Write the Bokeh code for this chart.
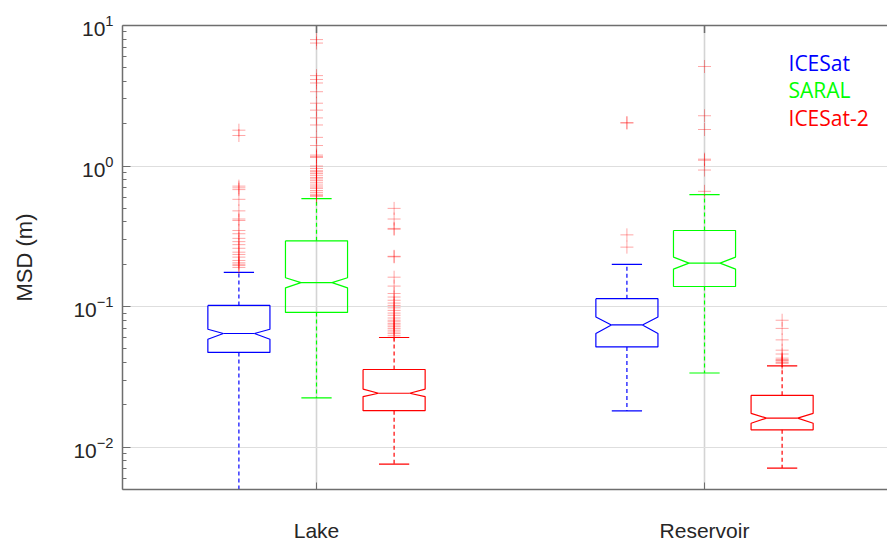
import math
from bokeh.plotting import figure
from bokeh.models import Range1d, FixedTicker, LogTickFormatter, LinearAxis, ColumnDataSource
from bokeh.core.properties import value
from bokeh.embed import file_html
from bokeh.resources import INLINE

# ---------------- data ----------------
groups = ["Lake", "Reservoir"]
series = ["ICESat", "SARAL", "ICESat-2"]
colors = ["#0000ff", "#00ff00", "#ff0000"]

# [group][series]
lower_whisker = [[0.005, 0.0224, 0.00757], [0.0181, 0.0337, 0.0071]]
q1 = [[0.0472, 0.091, 0.0182], [0.0517, 0.139, 0.0133]]
median = [[0.0644, 0.148, 0.0242], [0.0741, 0.204, 0.0161]]
q3 = [[0.102, 0.294, 0.0357], [0.114, 0.348, 0.0234]]
upper_whisker = [[0.175, 0.586, 0.0603], [0.1995, 0.626, 0.0379]]
notch_lo = [[0.0586, 0.136, 0.0229], [0.0644, 0.185, 0.0148]]
notch_hi = [[0.069, 0.1606, 0.0259], [0.0844, 0.225, 0.0174]]

outliers_lake_icesat = [0.19, 0.196, 0.2, 0.205, 0.213, 0.225, 0.235, 0.244, 0.26, 0.276,
                        0.29, 0.306, 0.33, 0.348, 0.41, 0.42, 0.48, 0.58, 0.68, 0.70, 0.72,
                        1.65, 1.8]
outliers_lake_saral = [0.61, 0.616, 0.63, 0.65, 0.67, 0.694, 0.71, 0.733, 0.76, 0.787, 0.81,
                       0.83, 0.86, 0.886, 0.91, 0.926, 0.962, 1.0, 1.15, 1.17, 1.197, 1.4,
                       1.6, 1.96, 2.2, 2.5, 2.8, 3.38, 3.9, 4.13, 4.4, 7.5, 7.94]
outliers_lake_icesat2 = [0.062, 0.0643, 0.066, 0.068, 0.07, 0.072, 0.074, 0.0757, 0.078, 0.08,
                         0.083, 0.0868, 0.09, 0.094, 0.098, 0.102, 0.106, 0.111, 0.117, 0.124,
                         0.14, 0.162, 0.226, 0.228, 0.355, 0.36, 0.42, 0.5]
outliers_res_icesat = [0.265, 0.324, 2.03, 2.03]
outliers_res_saral = [0.661, 0.937, 1.10, 1.12, 1.82, 2.28, 5.11]
outliers_res_icesat2 = [0.0395, 0.040, 0.041, 0.0415, 0.042, 0.043, 0.046, 0.049, 0.058,
                        0.07, 0.08]
outliers = [[outliers_lake_icesat, outliers_lake_saral, outliers_lake_icesat2],
            [outliers_res_icesat, outliers_res_saral, outliers_res_icesat2]]

y_major_ticks = [0.01, 0.1, 1, 10]

# ---------------- layout / style ----------------
offsets = [-0.2, 0.0, 0.2]
half_w = 0.08
notch_w = 0.04
cap_w = 0.039

p = figure(width=887, height=545, x_range=Range1d(0.5, 2.4716), y_range=Range1d(0.005, 10),
           y_axis_type="log", output_backend="svg", toolbar_location=None,
           min_border_left=122, min_border_top=25, min_border_bottom=56, min_border_right=0)
p.outline_line_color = None
p.background_fill_color = "white"

axis_col = "#6e6e6e"
label_col = "#262626"

# y axis
p.yaxis.ticker = FixedTicker(ticks=y_major_ticks,
                             minor_ticks=[m * 10.0 ** e for e in range(-3, 1) for m in range(2, 10)])
p.yaxis.formatter = LogTickFormatter()
p.yaxis.major_tick_in = 8
p.yaxis.major_tick_out = 0
p.yaxis.minor_tick_in = 4
p.yaxis.minor_tick_out = 0
p.yaxis.axis_line_color = axis_col
p.yaxis.axis_line_width = 1.5
p.yaxis.major_tick_line_color = axis_col
p.yaxis.minor_tick_line_color = axis_col
p.yaxis.major_label_text_font = "Liberation Sans"
p.yaxis.major_label_text_font_size = "21px"
p.yaxis.major_label_text_color = label_col
p.yaxis.major_label_standoff = 9
p.yaxis.axis_label = "MSD (m)"
p.yaxis.axis_label_text_font = "Liberation Sans"
p.yaxis.axis_label_text_font_size = "22px"
p.yaxis.axis_label_text_font_style = "normal"
p.yaxis.axis_label_text_color = label_col
p.yaxis.axis_label_standoff = 33

# x axis
xt = [i + 1 for i in range(len(groups))]
p.xaxis.ticker = FixedTicker(ticks=xt)
p.xaxis.major_label_overrides = {i + 1: g for i, g in enumerate(groups)}
p.xaxis.major_tick_in = 7
p.xaxis.major_tick_out = 0
p.xaxis.minor_tick_line_color = None
p.xaxis.axis_line_color = axis_col
p.xaxis.axis_line_width = 1.5
p.xaxis.major_tick_line_color = axis_col
p.xaxis.major_label_text_font = "Liberation Sans"
p.xaxis.major_label_text_font_size = "21px"
p.xaxis.major_label_text_color = label_col
p.xaxis.major_label_standoff = 29

# top border line (no labels)
top = LinearAxis(ticker=FixedTicker(ticks=[]), minor_tick_line_color=None,
                 major_tick_line_color=None, axis_line_color=axis_col, axis_line_width=1.5)
p.add_layout(top, "above")

# grids
p.xgrid.ticker = FixedTicker(ticks=xt)
p.xgrid.grid_line_color = "#d4d4d4"
p.xgrid.grid_line_width = 1.6
p.ygrid.ticker = FixedTicker(ticks=y_major_ticks)
p.ygrid.grid_line_color = "#dedede"
p.ygrid.grid_line_width = 1

# inward tick marks on the top border
p.scatter(xt, [y_major_ticks[-1]] * len(xt), marker="dash", angle=math.pi / 2, size=15,
          line_color=axis_col, line_width=1.5)

# ---------------- boxes ----------------
for gi in range(len(groups)):
    for si in range(len(series)):
        c = colors[si]
        x = gi + 1 + offsets[si]
        xs = [x - half_w, x + half_w, x + half_w, x + notch_w, x + half_w, x + half_w,
              x - half_w, x - half_w, x - notch_w, x - half_w, x - half_w]
        ys = [q3[gi][si], q3[gi][si], notch_hi[gi][si], median[gi][si], notch_lo[gi][si],
              q1[gi][si], q1[gi][si], notch_lo[gi][si], median[gi][si], notch_hi[gi][si],
              q3[gi][si]]
        p.line(xs, ys, line_color=c, line_width=1.2)
        # median
        p.line([x - notch_w, x + notch_w], [median[gi][si]] * 2, line_color=c, line_width=1.2)
        # whiskers
        p.line([x, x], [q3[gi][si], upper_whisker[gi][si]], line_color=c, line_width=1.2,
               line_dash="4 3")
        p.line([x, x], [q1[gi][si], lower_whisker[gi][si]], line_color=c, line_width=1.2,
               line_dash="4 3")
        p.line([x - cap_w, x + cap_w], [upper_whisker[gi][si]] * 2, line_color=c, line_width=1.2)
        p.line([x - cap_w, x + cap_w], [lower_whisker[gi][si]] * 2, line_color=c, line_width=1.2)
        # outliers
        ov = outliers[gi][si]
        p.scatter([x] * len(ov), ov, marker="cross", size=13, line_color="#ff0000",
                  line_alpha=0.35, line_width=1)

# ---------------- legend text ----------------
leg_y = [5.4, 3.47, 2.2]
src = ColumnDataSource(dict(x=[2.2165] * 3, y=leg_y, t=series, c=colors))
p.text(x="x", y="y", text="t", text_color="c", source=src, text_font=value("Open Sans"),
       text_font_size="21px", text_baseline="middle", text_align="left")

open("out.html", "w").write(file_html(p, INLINE))
